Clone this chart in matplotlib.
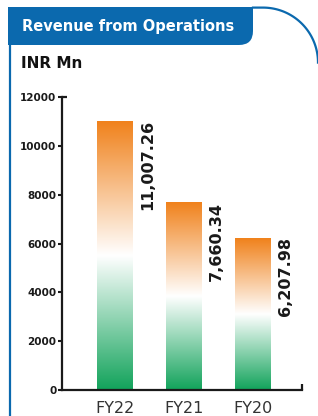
import numpy as np
import matplotlib.pyplot as plt
from matplotlib.path import Path
from matplotlib.patches import PathPatch
from matplotlib.colors import LinearSegmentedColormap

years = ["FY22", "FY21", "FY20"]
revenue = [11007.26, 7660.34, 6207.98]
value_labels = ["11,007.26", "7,660.34", "6,207.98"]
yticks = [0, 2000, 4000, 6000, 8000, 10000, 12000]

blue = "#0b69ae"
grad = LinearSegmentedColormap.from_list("tri", ["#12a35b", "#ffffff", "#f0821c"])

fig = plt.figure(figsize=(3.18, 4.16), dpi=100)

# decoration layer in pixel coords
bg = fig.add_axes([0, 0, 1, 1], zorder=0)
bg.set_xlim(0, 318)
bg.set_ylim(416, 0)
bg.axis("off")

verts = [(8, 7), (253, 7), (253, 31), (253, 45), (239, 45), (8, 45), (8, 7)]
codes = [Path.MOVETO, Path.LINETO, Path.LINETO, Path.CURVE3, Path.CURVE3,
         Path.LINETO, Path.CLOSEPOLY]
bg.add_patch(PathPatch(Path(verts, codes), fc=blue, ec="none"))
bg.plot([10, 10], [7, 416], color=blue, lw=1.6, solid_capstyle="butt")
t = np.linspace(0, np.pi / 2, 60)
bg.plot(np.r_[253, 263 + 55 * np.sin(t)], np.r_[7.6, 7.6 + 55 * (1 - np.cos(t))],
        color=blue, lw=1.6)
bg.text(22, 26, "Revenue from Operations", color="white", fontsize=10.5,
        fontweight="bold", va="center", ha="left")
bg.text(21, 63, "INR Mn", color="#111111", fontsize=11,
        fontweight="bold", va="center", ha="left")

ax = fig.add_axes([62 / 318, 26 / 416, 240 / 318, 293 / 416], zorder=1)
ax.patch.set_alpha(0)
x = np.arange(len(years))
bars = ax.bar(x, revenue, width=0.52, color="none")
gimg = np.linspace(0, 1, 256).reshape(-1, 1)
for b in bars:
    x0, w, h = b.get_x(), b.get_width(), b.get_height()
    ax.imshow(gimg, cmap=grad, origin="lower", aspect="auto",
              extent=[x0, x0 + w, 0, h], zorder=2)

for b, lab in zip(bars, value_labels):
    ax.annotate(lab, (b.get_x() + b.get_width(), b.get_height()),
                xytext=(5, 1), textcoords="offset points", rotation=90,
                ha="left", va="top", fontsize=11.5, fontweight="bold",
                color="#1a1a1a")

ax.set_xlim(-0.768, 2.71)
ax.set_ylim(0, 12000)
ax.set_yticks(yticks)
ax.set_yticklabels([str(v) for v in yticks], fontsize=7.5, fontweight="bold",
                   color="#1a1a1a")
ax.set_xticks(x)
ax.set_xticklabels(years, fontsize=11.5, color="#333333")
ax.tick_params(axis="x", length=0, pad=8)
ax.tick_params(axis="y", length=3, width=1.5, pad=1, color="#1a1a1a")
for s in ["top", "right"]:
    ax.spines[s].set_visible(False)
for s in ["left", "bottom"]:
    ax.spines[s].set_linewidth(1.6)
    ax.spines[s].set_color("#1a1a1a")
# small end marks on the axes
ax.plot([2.71, 2.71], [0, 250], color="#1a1a1a", lw=1.6, clip_on=False,
        solid_capstyle="butt")
ax.plot([-0.768, -0.70], [12000, 12000], color="#1a1a1a", lw=1.6,
        clip_on=False, solid_capstyle="butt")

fig.savefig("out.png", dpi=100)
